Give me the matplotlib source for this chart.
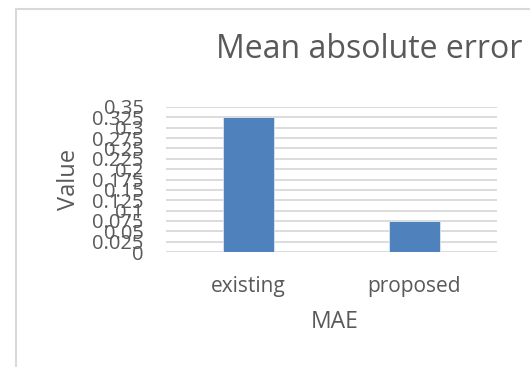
import numpy as np
import matplotlib.pyplot as plt
from matplotlib.patches import Rectangle

plt.rcParams['font.family'] = ['Open Sans', 'DejaVu Sans']

categories = ['existing', 'proposed']
mae_values = [0.325, 0.075]
y_ticks = [0, 0.025, 0.05, 0.075, 0.1, 0.125, 0.15, 0.175, 0.2,
           0.225, 0.25, 0.275, 0.3, 0.325, 0.35]
y_labels = ['0', '0.025', '0.05', '0.075', '0.1', '0.125', '0.15', '0.175',
            '0.2', '0.225', '0.25', '0.275', '0.3', '0.325', '0.35']

text_col = '#595959'
grid_col = '#d9d9d9'

fig = plt.figure(figsize=(5.3, 3.67), dpi=100)

# chart area border (cut off at right and bottom)
fig.patches.append(Rectangle((16/530, -0.1), 1.2, 1 - 9/367 + 0.1,
                             transform=fig.transFigure, fill=False,
                             edgecolor=grid_col, linewidth=1.5))

ax = fig.add_axes([166/530, 1 - 252/367, 331/530, 145/367])
x = np.arange(len(categories))
ax.bar(x, mae_values, width=0.31, color='#4f81bd', edgecolor='#dce6f2',
       linewidth=0.6, zorder=3)

ax.set_xlim(-0.5, 1.5)
ax.set_ylim(0, 0.35)
ax.set_yticks(y_ticks)
ax.set_yticklabels(y_labels)
ax.set_xticks(x)
ax.set_xticklabels(categories)
ax.grid(axis='y', color=grid_col, linewidth=1.3, zorder=0)
ax.tick_params(axis='both', length=0, colors=text_col)
ax.tick_params(axis='y', pad=16, labelsize=14.5)
ax.tick_params(axis='x', pad=17, labelsize=15)
for s in ax.spines.values():
    s.set_visible(False)

ax.set_xlabel('MAE', fontsize=16.5, color=text_col)
ax.xaxis.set_label_coords(0.51, -0.40)
ax.set_ylabel('Value', fontsize=17, color=text_col)
ax.yaxis.set_label_coords(-0.258, 0.497)

fig.text(369.5/530, 1 - 58.5/367, 'Mean absolute error', fontsize=23,
         color=text_col, ha='center', va='baseline')

fig.savefig('out.png', dpi=100)
